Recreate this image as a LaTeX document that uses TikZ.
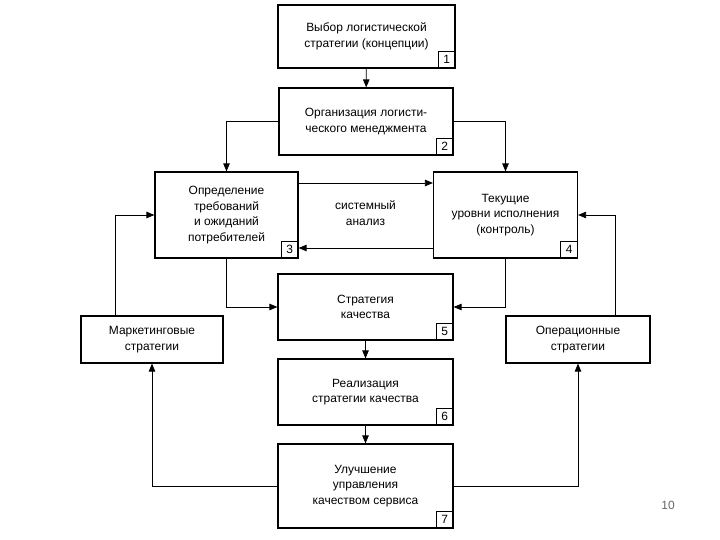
\documentclass[tikz,border=0pt]{standalone}
\usepackage{fontspec}
\setmainfont{Liberation Sans}
\usetikzlibrary{positioning,arrows.meta,calc}

\begin{document}
\begin{tikzpicture}[x=1bp, y=-1bp, >={Triangle[length=8bp,width=6.5bp]},
      font=\fontsize{12}{15.5}\selectfont,
      stage/.style={draw, line width=1.2bp, align=center, inner sep=0pt},
      tag/.style={draw, line width=0.8bp, minimum width=17bp, minimum height=17bp, inner sep=0pt, anchor=south east},
      link/.style={line width=0.8bp}]
      \useasboundingbox (0,0) rectangle (720,540);
      \node[stage, minimum width=177bp, minimum height=63bp] (s1) at (366.5,36.5) {Выбор логистической\\стратегии (концепции)};
      \node[stage, minimum width=174bp, minimum height=67bp] (s2) at (366,121.5) {Организация логисти-\\ческого менеджмента};
      \node[stage, minimum width=143bp, minimum height=86bp] (s3) at (226.5,215) {Определение\\требований\\и ожиданий\\потребителей};
      \node[stage, minimum width=144bp, minimum height=86bp] (s4) at (505.5,215) {Текущие\\уровни исполнения\\(контроль)};
      \node[stage, minimum width=175bp, minimum height=66bp] (s5) at (365.5,307) {Стратегия\\качества};
      \node[stage, minimum width=175bp, minimum height=66bp] (s6) at (365.5,392) {Реализация\\стратегии качества};
      \node[stage, minimum width=175bp, minimum height=84bp] (s7) at (365.5,486) {Улучшение\\управления\\качеством сервиса};
      \node[stage, minimum width=142bp, minimum height=47bp] (mkt) at (152,339.5) {Маркетинговые\\стратегии};
      \node[stage, minimum width=144bp, minimum height=47bp] (ops) at (578,339.5) {Операционные\\стратегии};
      \node[align=center] (sys) at (365.5,213) {системный\\анализ};
      % numbers
      \node[tag] (n1) at (s1.south east) {1};
      \node[tag] (n2) at (s2.south east) {2};
      \node[tag] (n3) at (s3.south east) {3};
      \node[tag] (n4) at (s4.south east) {4};
      \node[tag] (n5) at (s5.south east) {5};
      \node[tag] (n6) at (s6.south east) {6};
      \node[tag] (n7) at (s7.south east) {7};
      \node[text=black!60] (pg) at (668,505) {10};
      % links
      \draw[link,->] (s1) -- (s2);
      \draw[link,->] (s2.west) -| (s3.north);
      \draw[link,->] (s2.east) -| (s4.north);
      \draw[link,->] ([yshift=32bp]s3.east) -- ([yshift=32bp]s4.west);
      \draw[link,->] ([yshift=-33bp]s4.west) -- ([yshift=-33bp]s3.east);
      \draw[link,->] (s3.south) |- (s5.west);
      \draw[link,->] (s4.south) |- (s5.east);
      \draw[link,->] (s5) -- (s6);
      \draw[link,->] (s6) -- (s7);
      \draw[link,->] ([xshift=-37bp]mkt.north) |- (s3.west);
      \draw[link,->] ([xshift=37bp]ops.north) |- (s4.east);
      \draw[link,->] (s7.west) -| (mkt.south);
      \draw[link,->] (s7.east) -| (ops.south);
    \end{tikzpicture}
\end{document}
